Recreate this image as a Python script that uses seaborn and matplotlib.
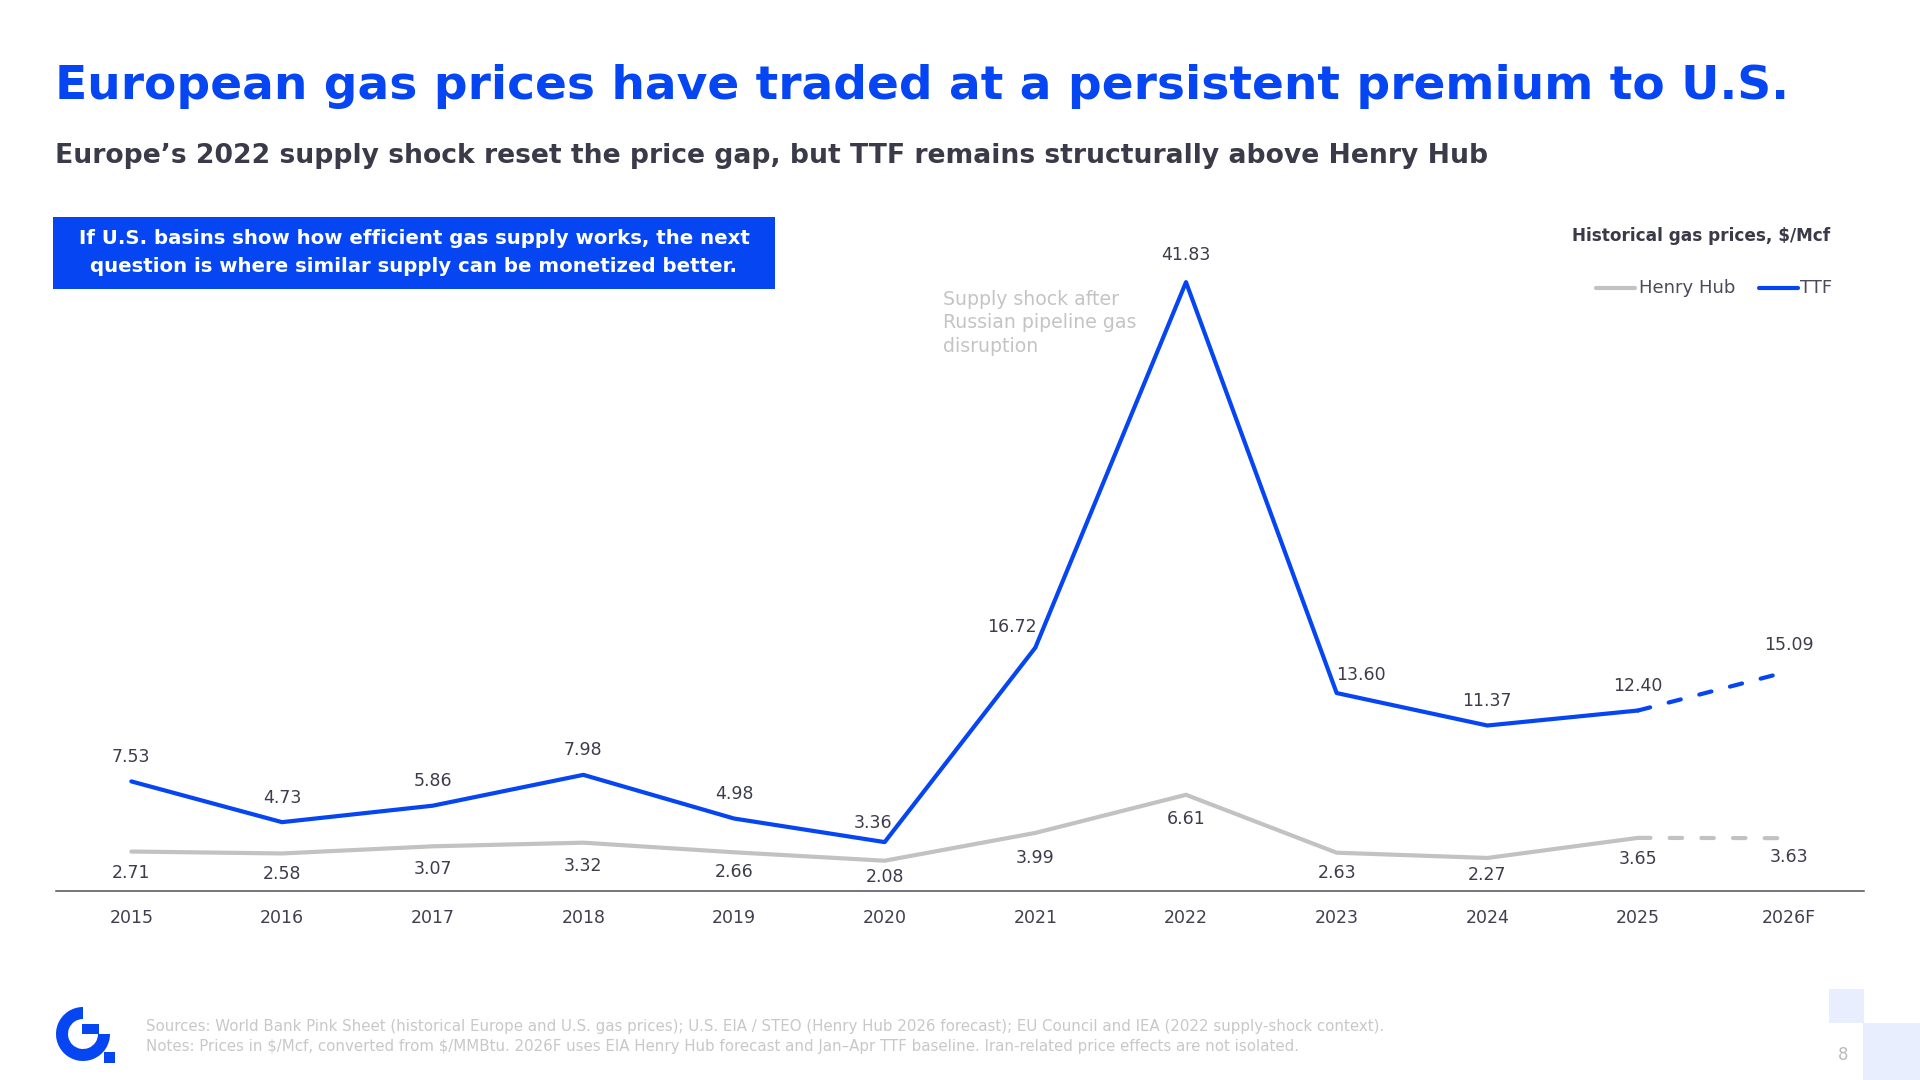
import matplotlib
matplotlib.use("Agg")
import matplotlib.pyplot as plt
from matplotlib.patches import Rectangle, Wedge
from matplotlib.lines import Line2D
import seaborn as sns
import pandas as pd

# ---------------- data ----------------
years = ["2015", "2016", "2017", "2018", "2019", "2020", "2021", "2022", "2023", "2024", "2025", "2026F"]
henry_hub = [2.71, 2.58, 3.07, 3.32, 2.66, 2.08, 3.99, 6.61, 2.63, 2.27, 3.65, 3.63]
ttf = [7.53, 4.73, 5.86, 7.98, 4.98, 3.36, 16.72, 41.83, 13.60, 11.37, 12.40, 15.09]
n_hist = 11  # 2015-2025 are historical, 2026F is a forecast

title = "European gas prices have traded at a persistent premium to U.S."
subtitle = "Europe\u2019s 2022 supply shock reset the price gap, but TTF remains structurally above Henry Hub"
box_lines = ["If U.S. basins show how efficient gas supply works, the next",
             "question is where similar supply can be monetized better."]
legend_title = "Historical gas prices, $/Mcf"
annotation = "Supply shock after\nRussian pipeline gas\ndisruption"
footnotes = ["Sources: World Bank Pink Sheet (historical Europe and U.S. gas prices); U.S. EIA / STEO (Henry Hub 2026 forecast); EU Council and IEA (2022 supply-shock context).",
             "Notes: Prices in $/Mcf, converted from $/MMBtu. 2026F uses EIA Henry Hub forecast and Jan\u2013Apr TTF baseline. Iran-related price effects are not isolated."]
page_number = "8"

# ---------------- style ----------------
BLUE = "#0645F2"
GREY_LINE = "#C2C2C2"
DARK = "#3C3C4C"
W, H = 1920, 1080

sns.set_theme(style="white")
plt.rcParams["font.family"] = ["DejaVu Sans"]

fig = plt.figure(figsize=(W / 100, H / 100), dpi=100)
fig.patch.set_facecolor("white")


def fx(px):
    return px / W


def fy(py):
    return 1 - py / H


renderer = fig.canvas.get_renderer()


def fit(t, width_px):
    bb = t.get_window_extent(renderer)
    t.set_fontsize(t.get_fontsize() * width_px / bb.width)
    return t.get_fontsize()


# ---------------- chart ----------------
ax = fig.add_axes([fx(56), fy(891), fx(1864) - fx(56), (891 - 236) / H])
ax.set_facecolor("none")

x_idx = list(range(len(years)))
hist = pd.DataFrame({
    "x": x_idx[:n_hist] * 2,
    "price": henry_hub[:n_hist] + ttf[:n_hist],
    "series": ["Henry Hub"] * n_hist + ["TTF"] * n_hist,
})
fc = pd.DataFrame({
    "x": x_idx[n_hist - 1:] * 2,
    "price": henry_hub[n_hist - 1:] + ttf[n_hist - 1:],
    "series": ["Henry Hub"] * 2 + ["TTF"] * 2,
})
palette = {"Henry Hub": GREY_LINE, "TTF": BLUE}

n0 = len(ax.lines)
sns.lineplot(data=hist, x="x", y="price", hue="series", palette=palette,
             linewidth=3, legend=False, ax=ax)
for ln in ax.lines[n0:]:
    ln.set_solid_joinstyle("round")
    ln.set_solid_capstyle("round")
n1 = len(ax.lines)
sns.lineplot(data=fc, x="x", y="price", hue="series", palette=palette,
             linewidth=3, legend=False, ax=ax)
for ln in ax.lines[n1:]:
    ln.set_linestyle((0, (3.0, 4.6)))
    ln.set_dash_capstyle("round")

ax.set_xlim(-0.5, len(years) - 0.5)
ax.set_ylim(0, 45)
ax.set_xticks(x_idx)
ax.set_xticklabels(years)
ax.set_yticks([])
ax.set_xlabel("")
ax.set_ylabel("")
ax.tick_params(axis="x", length=0, pad=13, labelsize=12.5, labelcolor="#3F3F50")
for s in ["left", "right", "top"]:
    ax.spines[s].set_visible(False)
ax.spines["bottom"].set_color("#50505F")
ax.spines["bottom"].set_linewidth(1.1)
ax.grid(False)

# data labels (pixel offsets are styling only)
ttf_off = [(0, 24), (0, 24), (0, 25), (0, 25), (0, 25), (-12, 19), (-23, 21), (0, 27),
           (24, 18), (0, 25), (0, 25), (0, 26)]
hh_off = [(0, -21), (0, -21), (0, -23), (0, -23), (0, -20), (0, -16), (0, -25), (0, -24),
          (0, -20), (0, -17), (0, -21), (0, -19)]
for i, v in enumerate(ttf):
    ax.annotate(f"{v:.2f}", (x_idx[i], v), xytext=ttf_off[i], textcoords="offset pixels",
                ha="center", va="center", fontsize=12.5, color=DARK)
for i, v in enumerate(henry_hub):
    ax.annotate(f"{v:.2f}", (x_idx[i], v), xytext=hh_off[i], textcoords="offset pixels",
                ha="center", va="center", fontsize=12.5, color=DARK)

# annotation for the 2022 shock
t_ann = fig.text(fx(943), fy(323), annotation, ha="left", va="center", fontsize=14,
                 color="#C4C4C4", linespacing=1.28)
t_tmp = fig.text(0, 0, annotation.split("\n")[1], fontsize=14)
sz = fit(t_tmp, 193)
t_tmp.remove()
t_ann.set_fontsize(sz)

# ---------------- header ----------------
t = fig.text(fx(55), fy(99), title, ha="left", va="baseline", fontsize=42,
             fontweight="bold", color=BLUE)
fit(t, 1735)
t = fig.text(fx(55), fy(163), subtitle, ha="left", va="baseline", fontsize=23,
             fontweight="bold", color="#3A3A48")
fit(t, 1435)

# blue callout box
fig.add_artist(Rectangle((fx(53), fy(289)), fx(775) - fx(53), (289 - 217) / H,
                         transform=fig.transFigure, facecolor=BLUE, edgecolor="none"))
tb1 = fig.text(fx(414), fy(239), box_lines[0], ha="center", va="center", fontsize=16,
               fontweight="bold", color="white")
bsz = fit(tb1, 674)
fig.text(fx(414), fy(267), box_lines[1], ha="center", va="center", fontsize=bsz,
         fontweight="bold", color="white")

# legend
t = fig.text(fx(1830), fy(236), legend_title, ha="right", va="center", fontsize=13.5,
             fontweight="bold", color="#3A3A48", parse_math=False)
fit(t, 259)
fig.add_artist(Line2D([fx(1596), fx(1635)], [fy(288), fy(288)], transform=fig.transFigure,
                      color=GREY_LINE, linewidth=3, solid_capstyle="round"))
t = fig.text(fx(1639), fy(288), "Henry Hub", ha="left", va="center", fontsize=13,
             color="#4A4A5A")
lsz = fit(t, 97)
fig.add_artist(Line2D([fx(1759), fx(1798)], [fy(288), fy(288)], transform=fig.transFigure,
                      color=BLUE, linewidth=3, solid_capstyle="round"))
fig.text(fx(1800), fy(288), "TTF", ha="left", va="center", fontsize=lsz, color="#4A4A5A")

# ---------------- footer ----------------
tf = fig.text(fx(146), fy(1027), footnotes[0], ha="left", va="center", fontsize=11,
              color="#C8C8C8", parse_math=False)
fsz = fit(tf, 1239)
fig.text(fx(146), fy(1046), footnotes[1], ha="left", va="center", fontsize=fsz,
         color="#C8C8C8", parse_math=False)

# logo (drawn in inch coordinates so the shapes keep their aspect)
tr = fig.dpi_scale_trans


def inch(px, py):
    return px / 100, (H - py) / 100


fig.add_artist(Wedge(inch(83, 1034), 0.27, 90, 360, width=0.12, transform=tr,
                     facecolor=BLUE, edgecolor="none"))
x0, y0 = inch(82, 1034)
fig.add_artist(Rectangle((x0, y0), 0.17, 0.10, transform=tr, facecolor=BLUE, edgecolor="none"))
x0, y0 = inch(104, 1063)
fig.add_artist(Rectangle((x0, y0), 0.11, 0.11, transform=tr, facecolor=BLUE, edgecolor="none"))

# corner decoration and page number
fig.add_artist(Rectangle((fx(1829), fy(1023)), fx(1864) - fx(1829), (1023 - 989) / H,
                         transform=fig.transFigure, facecolor="#E8EEFD", edgecolor="none"))
fig.add_artist(Rectangle((fx(1863), fy(1080)), fx(1920) - fx(1863), (1080 - 1023) / H,
                         transform=fig.transFigure, facecolor="#E8EEFD", edgecolor="none"))
fig.text(fx(1843), fy(1055), page_number, ha="center", va="center", fontsize=12,
         color="#BBBBBB")

fig.savefig("out.png", dpi=100, facecolor="white")
